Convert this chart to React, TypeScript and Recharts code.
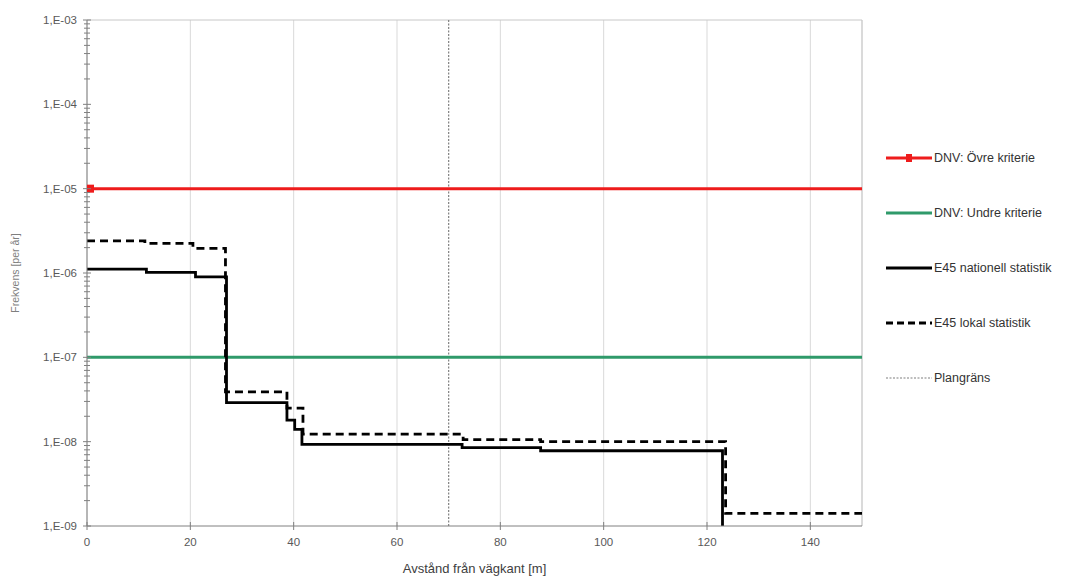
import React from "react";
import {
  LineChart,
  Line,
  XAxis,
  YAxis,
  CartesianGrid,
  ReferenceLine,
} from "recharts";

// Distance from road edge [m] / frequency [per year].
const NAT_X = [0, 11.5, 21, 27, 38.7, 40.2, 41.6, 72.6, 87.8, 123];
const NAT_Y = [1.11e-6, 1.02e-6, 9.0e-7, 2.9e-8, 1.8e-8, 1.4e-8, 9.3e-9, 8.5e-9, 7.8e-9, 1e-9];

const LOK_X = [0, 11.2, 20.5, 26.8, 38.7, 41.8, 72.8, 87.8, 123.6, 150];
const LOK_Y = [2.41e-6, 2.25e-6, 1.96e-6, 3.9e-8, 2.5e-8, 1.23e-8, 1.06e-8, 1.0e-8, 1.41e-9, 1.41e-9];

const CRIT_X = [0, 150];
const UPPER_CRIT = 1e-5;
const LOWER_CRIT = 1e-7;
const PLAN_LIMIT = 70;

const X_TICKS = [0, 20, 40, 60, 80, 100, 120, 140];
const DECADES = [1e-9, 1e-8, 1e-7, 1e-6, 1e-5, 1e-4, 1e-3];
const MINOR_FACTORS = [2, 3, 4, 5, 6, 7, 8, 9];

const LEGEND_ITEMS = [
  { name: "DNV: Övre kriterie", color: "#ee1c1c", dash: "", marker: true },
  { name: "DNV: Undre kriterie", color: "#2f9a6a", dash: "", marker: false },
  { name: "E45 nationell statistik", color: "#000000", dash: "", marker: false },
  { name: "E45 lokal statistik", color: "#000000", dash: "7 4", marker: false },
  { name: "Plangräns", color: "#7f7f7f", dash: "2 1.5", marker: false },
];

const FONT = '"Liberation Sans", Arial, sans-serif';

const toPoints = (xs: number[], ys: number[]) => xs.map((x, i) => ({ x, y: ys[i] }));

const yTicks = [
  ...DECADES,
  ...DECADES.slice(0, -1).flatMap((d) => MINOR_FACTORS.map((f) => Number((d * f).toPrecision(3)))),
].sort((a, b) => a - b);

const fmtExp = (v: number) => {
  const e = Math.round(Math.log10(v));
  const s = String(Math.abs(e)).padStart(2, "0");
  return `1,E${e < 0 ? "-" : "+"}${s}`;
};

const isDecade = (v: number) => DECADES.some((d) => Math.abs(d - v) / d < 1e-6);

const YTick = (props: any) => {
  const { x, y, payload } = props;
  const ax = x + 8;
  const major = isDecade(payload.value);
  return (
    <g>
      <line x1={ax - (major ? 4 : 3)} x2={ax + (major ? 4 : 3)} y1={y} y2={y} stroke="#808080" />
      {major && (
        <text x={x - 2} y={y} dy={4} textAnchor="end" fontSize={11.5} fill="#595959" fontFamily={FONT}>
          {fmtExp(payload.value)}
        </text>
      )}
    </g>
  );
};

const XTick = (props: any) => {
  const { x, y, payload } = props;
  const ay = y - 8;
  return (
    <g>
      <line x1={x} x2={x} y1={ay - 4} y2={ay + 4} stroke="#808080" />
      <text x={x} y={y} dy={12} textAnchor="middle" fontSize={11.5} fill="#595959" fontFamily={FONT}>
        {payload.value}
      </text>
    </g>
  );
};

const RedMarker = (props: any) => {
  const { cx, cy, index } = props;
  if (index !== 0) return <g key={`m${index}`} />;
  return <rect key={`m${index}`} x={cx} y={cy - 4} width={7} height={8} fill="#ee1c1c" />;
};

export default function App() {
  return (
    <div style={{ position: "absolute", left: 0, top: 0, width: 1077, height: 576, background: "#fff" }}>
      <LineChart width={1077} height={576} margin={{ top: 20, right: 215, left: 0, bottom: 0 }}>
        <CartesianGrid horizontal={false} stroke="#d9d9d9" />
        <XAxis
          type="number"
          dataKey="x"
          domain={[0, 150]}
          ticks={X_TICKS}
          allowDataOverflow
          height={50}
          tickSize={0}
          tickMargin={8}
          tickLine={false}
          stroke="#808080"
          tick={<XTick />}
          label={{
            value: "Avstånd från vägkant [m]",
            position: "insideBottom",
            offset: 3,
            fontSize: 13,
            fill: "#404040",
            fontFamily: FONT,
          }}
        />
        <YAxis
          type="number"
          scale="log"
          domain={[1e-9, 1e-3]}
          ticks={yTicks}
          interval={0}
          allowDataOverflow
          width={87}
          tickSize={0}
          tickMargin={8}
          tickLine={false}
          stroke="#808080"
          tick={<YTick />}
          label={{
            content: ({ viewBox }: any) => (
              <text
                x={viewBox.x + 16}
                y={viewBox.y + viewBox.height / 2}
                transform={`rotate(-90 ${viewBox.x + 16} ${viewBox.y + viewBox.height / 2})`}
                textAnchor="middle"
                dominantBaseline="middle"
                fontSize={10.5}
                fill="#7f7f7f"
                fontFamily={FONT}
              >
                Frekvens [per år]
              </text>
            ),
          }}
        />
        <ReferenceLine y={1e-3} stroke="#c8c8c8" />
        <ReferenceLine x={150} stroke="#c8c8c8" />
        <ReferenceLine x={PLAN_LIMIT} stroke="#7f7f7f" strokeDasharray="2 1.5" strokeWidth={1.2} />
        <Line
          data={toPoints(CRIT_X, CRIT_X.map(() => LOWER_CRIT))}
          dataKey="y"
          stroke="#2f9a6a"
          strokeWidth={3}
          dot={false}
          isAnimationActive={false}
        />
        <Line
          data={toPoints(CRIT_X, CRIT_X.map(() => UPPER_CRIT))}
          dataKey="y"
          stroke="#ee1c1c"
          strokeWidth={3}
          dot={<RedMarker />}
          isAnimationActive={false}
        />
        <Line
          data={toPoints(LOK_X, LOK_Y)}
          dataKey="y"
          type="stepAfter"
          stroke="#000"
          strokeWidth={2.8}
          strokeDasharray="8 5"
          dot={false}
          isAnimationActive={false}
        />
        <Line
          data={toPoints(NAT_X, NAT_Y)}
          dataKey="y"
          type="stepAfter"
          stroke="#000"
          strokeWidth={2.8}
          dot={false}
          isAnimationActive={false}
        />
      </LineChart>

      <div style={{ position: "absolute", left: 885, top: 148, fontFamily: FONT, fontSize: 12.5, color: "#333" }}>
        {LEGEND_ITEMS.map((it) => (
          <div key={it.name} style={{ display: "flex", alignItems: "center", height: 20, marginBottom: 35 }}>
            <svg width={48} height={10} style={{ marginRight: 1 }}>
              <line x1={1} x2={47} y1={5} y2={5} stroke={it.color} strokeWidth={it.name === "Plangräns" ? 1.2 : 3} strokeDasharray={it.dash} />
              {it.marker && <rect x={21} y={1} width={6} height={8} fill={it.color} />}
            </svg>
            <span>{it.name}</span>
          </div>
        ))}
      </div>
    </div>
  );
}
